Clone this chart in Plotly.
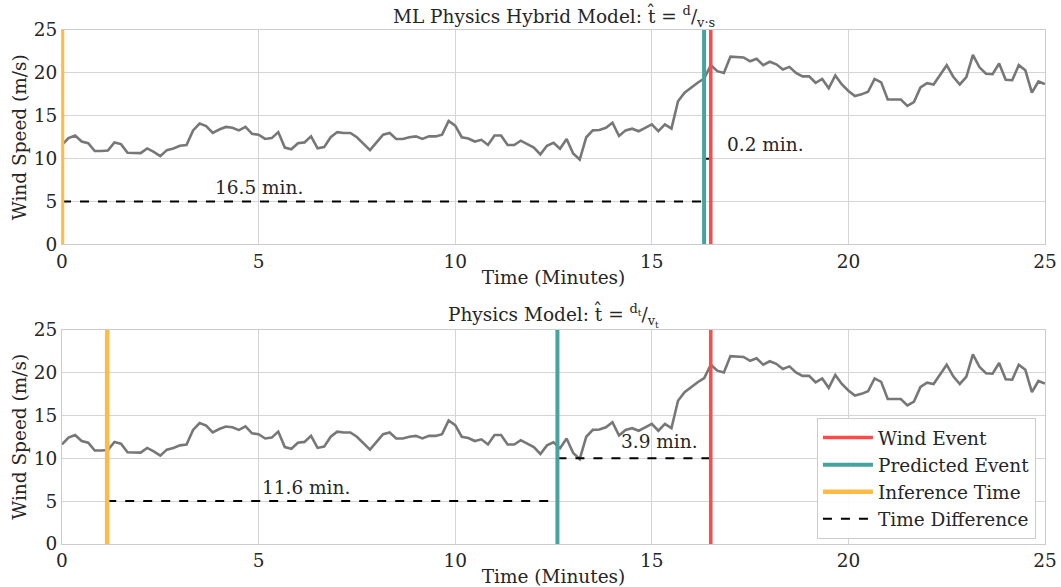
import plotly.graph_objects as go
from plotly.subplots import make_subplots

# time step 10 s => 1/6 min, 151 samples from 0 to 25 min
wind_speed = [
    11.6, 12.4, 12.7, 12.0, 11.8, 10.9, 10.9, 10.95, 11.9, 11.7,
    10.7, 10.7, 10.65, 11.2, 10.8, 10.3, 11.0, 11.2, 11.5, 11.6,
    13.3, 14.1, 13.8, 13.0, 13.4, 13.7, 13.6, 13.3, 13.7, 12.9,
    12.8, 12.3, 12.4, 13.1, 11.3, 11.1, 11.8, 11.9, 12.6, 11.2,
    11.35, 12.5, 13.1, 13.0, 13.0, 12.5, 11.7, 11.0, 11.9, 12.8,
    13.0, 12.3, 12.3, 12.5, 12.6, 12.3, 12.6, 12.6, 12.8, 14.4,
    13.85, 12.5, 12.35, 12.0, 12.2, 11.6, 12.7, 12.7, 11.6, 11.6,
    12.1, 11.65, 11.3, 10.5, 11.5, 11.85, 11.15, 12.3, 10.6, 9.9,
    12.5, 13.3, 13.35, 13.6, 14.2, 12.65, 13.3, 13.5, 13.2, 13.6,
    14.0, 13.2, 14.0, 13.5, 16.7, 17.7, 18.3, 18.85, 19.35, 20.9,
    20.2, 20.0, 21.9, 21.85, 21.8, 21.35, 21.65, 20.9, 21.3, 21.0,
    20.4, 20.7, 20.0, 19.6, 19.6, 18.85, 19.3, 18.2, 19.7, 18.65,
    17.9, 17.3, 17.5, 17.8, 19.3, 18.9, 16.9, 16.9, 16.9, 16.15,
    16.6, 18.3, 18.8, 18.65, 19.8, 20.9, 19.55, 18.65, 19.5, 22.1,
    20.65, 19.9, 19.85, 21.1, 19.2, 19.15, 20.9, 20.3, 17.7, 19.0,
    18.7,
]
time_min = [i / 6 for i in range(len(wind_speed))]

wind_event = 16.5
hybrid_pred, hybrid_inf = 16.33, 0.0
phys_pred, phys_inf = 12.6, 1.15
hybrid_labels = ["16.5 min.", "0.2 min."]
phys_labels = ["11.6 min.", "3.9 min."]

titles = ["ML Physics Hybrid Model: t\u0302 = <sup>d</sup>/<sub>v\u00b7s</sub>",
          "Physics Model: t\u0302 = <sup>d<sub>t</sub></sup>/<sub>v<sub>t</sub></sub>"]

RED = "#ff4a4a"
TEAL = "#46a39e"
ORANGE = "#ffbb44"
GRAY = "#777777"
FONT = "DejaVu Serif"
TXT = "#262626"

fig = make_subplots(rows=2, cols=1, vertical_spacing=0.1654)

def add_panel(row, pred, inf, labels, show):
    fig.add_trace(go.Scatter(x=time_min, y=wind_speed, mode="lines",
                             line=dict(color=GRAY, width=2.6), showlegend=False,
                             hoverinfo="skip"), row=row, col=1)
    fig.add_trace(go.Scatter(x=[inf, pred], y=[5, 5], mode="lines",
                             line=dict(color="black", width=2, dash="dash"),
                             name="Time Difference", showlegend=show, legendrank=4),
                  row=row, col=1)
    fig.add_trace(go.Scatter(x=[pred, wind_event], y=[10, 10], mode="lines",
                             line=dict(color="black", width=2, dash="dash"),
                             showlegend=False), row=row, col=1)
    fig.add_trace(go.Scatter(x=[inf, inf], y=[0, 25], mode="lines",
                             line=dict(color=ORANGE, width=4.5),
                             name="Inference Time", showlegend=show, legendrank=3),
                  row=row, col=1)
    fig.add_trace(go.Scatter(x=[pred, pred], y=[0, 25], mode="lines",
                             line=dict(color=TEAL, width=4),
                             name="Predicted Event", showlegend=show, legendrank=2),
                  row=row, col=1)
    fig.add_trace(go.Scatter(x=[wind_event, wind_event], y=[0, 25], mode="lines",
                             line=dict(color=RED, width=3.5),
                             name="Wind Event", showlegend=show, legendrank=1),
                  row=row, col=1)

add_panel(1, hybrid_pred, hybrid_inf, hybrid_labels, False)
add_panel(2, phys_pred, phys_inf, phys_labels, True)

ann = [
    dict(x=5.0, y=6.7, text=hybrid_labels[0], xref="x", yref="y"),
    dict(x=17.9, y=11.7, text=hybrid_labels[1], xref="x", yref="y"),
    dict(x=6.2, y=6.6, text=phys_labels[0], xref="x2", yref="y2"),
    dict(x=15.2, y=12.0, text=phys_labels[1], xref="x2", yref="y2"),
]
for a in ann:
    fig.add_annotation(**a, showarrow=False, font=dict(family=FONT, size=18.5, color=TXT))

# titles
fig.add_annotation(x=0.5, y=1.0, xref="paper", yref="paper", yanchor="bottom",
                   text=titles[0], showarrow=False, yshift=-2,
                   font=dict(family=FONT, size=18.5, color=TXT))
fig.add_annotation(x=0.5, y=0.4163, xref="paper", yref="paper", yanchor="bottom",
                   text=titles[1], showarrow=False, yshift=-2,
                   font=dict(family=FONT, size=18.5, color=TXT))

axis_common = dict(showline=True, mirror=True, linecolor="#cccccc", linewidth=1,
                   gridcolor="#d5d5d5", gridwidth=1, zeroline=False, ticks="",
                   automargin=False,
                   tickfont=dict(family=FONT, size=18.5, color=TXT),
                   title_font=dict(family=FONT, size=18.5, color=TXT))
for r in (1, 2):
    fig.update_xaxes(range=[0, 25], tickvals=[0, 5, 10, 15, 20, 25],
                     title_text="Time (Minutes)", title_standoff=0, **axis_common,
                     row=r, col=1)
    fig.update_yaxes(range=[0, 25], tickvals=[0, 5, 10, 15, 20, 25],
                     title_text="Wind Speed (m/s)", title_standoff=2, **axis_common,
                     row=r, col=1)

fig.update_layout(
    width=1061, height=587,
    margin=dict(l=62, r=16, t=30, b=43),
    plot_bgcolor="white", paper_bgcolor="white",
    font=dict(family=FONT, color=TXT),
    legend=dict(x=0.768, y=0.245, xanchor="left", yanchor="top",
                bgcolor="rgba(255,255,255,0.9)", bordercolor="#cccccc", borderwidth=1,
                font=dict(family=FONT, size=18.5, color=TXT), tracegroupgap=0,
                itemwidth=50),
)

fig.write_html("out.html", config={"displayModeBar": False},
               post_script="document.body.style.margin='0';document.body.style.overflow='hidden';")
